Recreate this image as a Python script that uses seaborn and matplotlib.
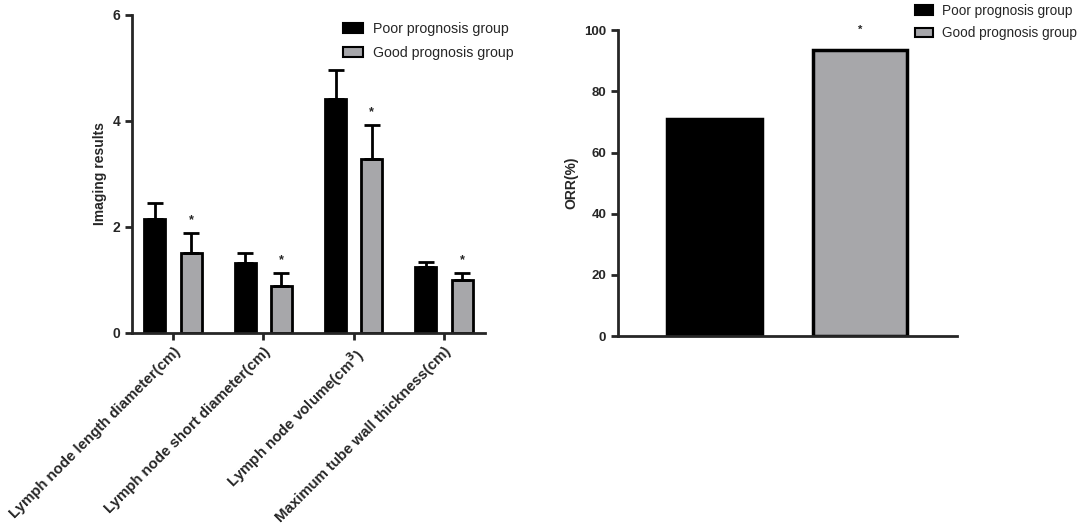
import numpy as np
import pandas as pd
import matplotlib
matplotlib.use("Agg")
import matplotlib.pyplot as plt
from matplotlib.patches import Patch
import seaborn as sns

# data
measures = ["Lymph node length diameter(cm)",
            "Lymph node short diameter(cm)",
            r"Lymph node volume(cm$^{\mathbf{3}}$)",
            "Maximum tube wall thickness(cm)"]
groups = ["Poor prognosis group", "Good prognosis group"]
poor_mean = [2.15, 1.32, 4.42, 1.24]
poor_sd = [0.30, 0.19, 0.55, 0.10]
good_mean = [1.51, 0.89, 3.28, 1.00]
good_sd = [0.38, 0.24, 0.65, 0.14]
orr = [70.9, 93.5]

colors = ["#000000", "#a6a6aa"]

sns.set_style("ticks")
plt.rcParams["font.family"] = ["Liberation Sans", "DejaVu Sans"]
plt.rcParams["font.weight"] = "bold"
plt.rcParams["axes.labelweight"] = "bold"
plt.rcParams["mathtext.default"] = "bf"

df = pd.DataFrame({
    "measure": measures * 2,
    "group": [groups[0]] * 4 + [groups[1]] * 4,
    "value": poor_mean + good_mean,
    "sd": poor_sd + good_sd,
})
df_orr = pd.DataFrame({"group": groups, "orr": orr})

fig = plt.figure(figsize=(10.84, 5.31), dpi=100)
ax1 = fig.add_axes([0.1218, 0.3729, 0.3256, 0.599])
ax2 = fig.add_axes([0.5701, 0.367, 0.3127, 0.576])

# left panel: grouped bars with upward error bars
sns.barplot(data=df, x="measure", y="value", hue="group", hue_order=groups,
            palette=colors, gap=0.42, edgecolor="black", linewidth=2,
            errorbar=None, legend=False, ax=ax1)

bars = ax1.patches[:8]
xs = [b.get_x() + b.get_width() / 2 for b in bars]
tops = [b.get_height() for b in bars]
errs = list(df["sd"])
ax1.errorbar(xs, tops, yerr=[np.zeros(8), errs], fmt="none", ecolor="black",
             elinewidth=2, capsize=6, capthick=2, zorder=1)
for i in range(4, 8):
    ax1.text(xs[i], tops[i] + errs[i] + 0.24, "*", ha="center", va="center",
             fontsize=9)

ax1.set_ylim(0, 6)
ax1.set_yticks([0, 2, 4, 6])
ax1.set_xlim(-0.454, 3.454)
ax1.set_xlabel("")
ax1.set_ylabel("Imaging results", fontsize=10)
ax1.set_xticks(range(4))
ax1.set_xticklabels(measures, rotation=45, ha="right", rotation_mode="anchor",
                    fontsize=10.8, fontweight="bold")
ax1.tick_params(axis="y", labelsize=10, width=2, length=5)
ax1.tick_params(axis="x", width=2, length=5)
for s in ["left", "bottom"]:
    ax1.spines[s].set_linewidth(2)
sns.despine(ax=ax1)

handles = [Patch(facecolor=colors[0], edgecolor="black", linewidth=1.5),
           Patch(facecolor=colors[1], edgecolor="black", linewidth=1.5)]
fig.legend(handles, groups, loc="upper left",
           bbox_to_anchor=(343 / 1084, 1 - 22 / 531), frameon=False,
           borderpad=0, borderaxespad=0, handlelength=1.4,
           handleheight=0.7, handletextpad=0.7, labelspacing=0.68,
           prop={"weight": "normal", "size": 10.2})

# right panel: ORR bars
sns.barplot(data=df_orr, x="group", y="orr", hue="group", hue_order=groups,
            palette=colors, width=0.65, edgecolor="black", linewidth=2.5,
            legend=False, ax=ax2)
ax2.text(1, 100, "*", ha="center", va="center", fontsize=8)
ax2.set_ylim(0, 100)
ax2.set_xlim(-0.663, 1.667)
ax2.set_xlabel("")
ax2.set_ylabel("ORR(%)", fontsize=10)
ax2.set_xticks([])
ax2.tick_params(axis="y", labelsize=9.5, width=2, length=5)
for s in ["left", "bottom"]:
    ax2.spines[s].set_linewidth(2)
sns.despine(ax=ax2)

fig.legend(handles, groups, loc="upper left",
           bbox_to_anchor=(915 / 1084, 1 - 4 / 531), frameon=False,
           borderpad=0, borderaxespad=0, handlelength=1.3,
           handleheight=0.7, handletextpad=0.7, labelspacing=0.62,
           prop={"weight": "normal", "size": 9.8})

fig.savefig("out.png", dpi=100)
